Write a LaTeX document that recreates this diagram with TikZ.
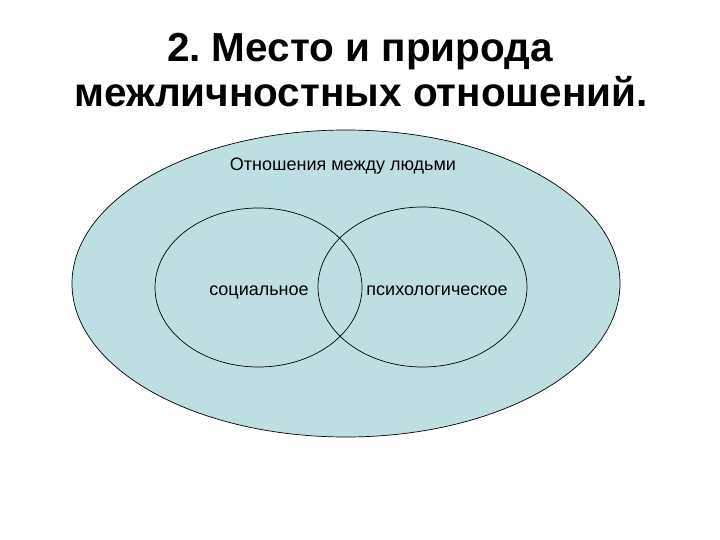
\documentclass[tikz,border=0pt]{standalone}
\usepackage{fontspec}
\setmainfont{Liberation Sans}
\definecolor{fillblue}{RGB}{190,223,226}
\frenchspacing
\begin{document}
\begin{tikzpicture}[x=1pt,y=-1pt,
  shapeline/.style={draw=black,line width=0.7pt},
  title/.style={font=\fontsize{40.5}{48}\selectfont\bfseries,anchor=base},
  label/.style={font=\fontsize{18}{22}\selectfont,anchor=base}]
\useasboundingbox (0,0) rectangle (720,540);
\fill[white] (0,0) rectangle (720,540);
\node[title] (t1) at (360,62) {2. Место и природа};
\node[title] (t2) at (361,107) {межличностных отношений.};
\draw[shapeline,fill=fillblue] (346,283.5) ellipse [x radius=274,y radius=153.5];
\draw[shapeline] (258.5,287.5) ellipse [x radius=103.5,y radius=79.5];
\draw[shapeline] (422.5,287) ellipse [x radius=104.5,y radius=80];
\node[label] (outer) at (343,171) {Отношения между людьми};
\node[label] (soc) at (259,295) {социальное};
\node[label] (psy) at (437,295) {психологическое};
\end{tikzpicture}
\end{document}
